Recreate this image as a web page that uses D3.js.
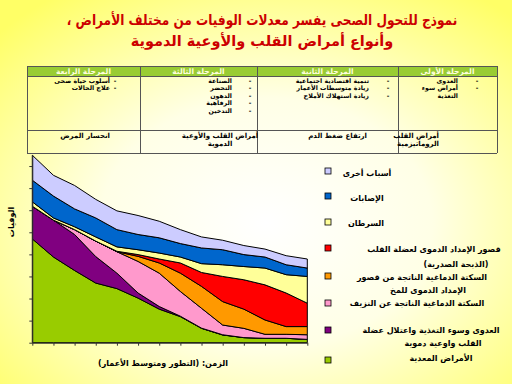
<!DOCTYPE html>
<html>
<head>
<meta charset="utf-8">
<script src="https://cdn.jsdelivr.net/npm/d3@7"></script>
<style>
  body { margin: 0; }
  svg { display: block; font-family: "DejaVu Sans", sans-serif; }
  .ar { direction: rtl; unicode-bidi: embed; }
</style>
</head>
<body>
<svg class="chart" width="512" height="384"></svg>
<script>
// stages of the health transition, columns left -> right
var stages = ["المرحلة الرابعة", "المرحلة الثالثة", "المرحلة الثانية", "المرحلة الأولى"];
var factors = [
  [["أسلوب حياة صحى"], ["علاج الحالات"]],
  [["الصناعة"], ["التحضر"], ["الدهون"], ["الرفاهية"], ["التدخين"]],
  [["تنمية اقتصادية اجتماعية"], ["زيادة متوسطات الأعمار"], ["زيادة استهلاك الأملاح"]],
  [["العدوى"], ["أمراض سوء", "التغذية"]]
];
var outcomes = [["انحسار المرض"], ["أمراض القلب والأوعية", "الدموية"], ["ارتفاع ضغط الدم"], ["أمراض القلب", "الروماتيزمية"]];

// time periods along x (no labels on the axis)
var periods = [1, 2, 3, 4, 5, 6, 7, 8, 9, 10, 11, 12, 13, 14];
var yTicks = [0, 1, 2, 3, 4, 5, 6, 7, 8];

// death rates by cause, stacked bottom -> top
var infectious     = [4.7, 3.88, 3.27, 2.7, 2.45, 2.02, 1.52, 1.18, 0.65, 0.35, 0.23, 0.2, 0.2, 0.15];
var nutrition      = [1.48, 1.67, 1.63, 1.2, 0.7, 0.23, 0.12, 0.02, 0.01, 0.01, 0, 0, 0, 0];
var hemorrhagic    = [0, 0, 0.22, 0.7, 0.97, 1.43, 1.51, 1.12, 0.9, 0.44, 0.42, 0.18, 0.18, 0.21];
var ischemicStroke = [0, 0, 0, 0, 0, 0.23, 0.46, 0.83, 0.99, 1.06, 0.87, 0.65, 0.35, 0.37];
var ischemicHeart  = [0, 0, 0, 0, 0.02, 0.08, 0.18, 0.46, 0.63, 1.14, 1.33, 1.59, 1.52, 1.06];
var cancer         = [0.2, 0.1, 0.13, 0.19, 0.2, 0.22, 0.27, 0.27, 0.4, 0.53, 0.6, 0.76, 0.83, 1.21];
var injuries       = [0.98, 0.99, 0.81, 0.86, 0.78, 0.69, 0.69, 0.61, 0.71, 0.68, 0.54, 0.5, 0.45, 0.38];
var otherCauses    = [1.13, 0.94, 1.06, 0.84, 0.85, 0.86, 0.75, 0.63, 0.5, 0.43, 0.41, 0.36, 0.41, 0.41];

var keys = ["infectious", "nutrition", "hemorrhagic", "ischemicStroke", "ischemicHeart", "cancer", "injuries", "otherCauses"];
var labels = {
  infectious: ["الأمراض المعدية"],
  nutrition: ["العدوى وسوء التغذية واعتلال عضلة", "القلب واوعية دموية"],
  hemorrhagic: ["السكتة الدماغية الناتجة عن النزيف"],
  ischemicStroke: ["السكتة الدماغية الناتجة من قصور", "الإمداد الدموى للمخ"],
  ischemicHeart: ["قصور الإمداد الدموى لعضلة القلب", "(الذبحة الصدرية)"],
  cancer: ["السرطان"],
  injuries: ["الإصابات"],
  otherCauses: ["أسباب أخرى"]
};
var colors = {
  infectious: "#99cc00", nutrition: "#800080", hemorrhagic: "#ff99cc", ischemicStroke: "#ff9900",
  ischemicHeart: "#ff0000", cancer: "#ffff99", injuries: "#0066cc", otherCauses: "#ccccff"
};

var series = { infectious: infectious, nutrition: nutrition, hemorrhagic: hemorrhagic,
  ischemicStroke: ischemicStroke, ischemicHeart: ischemicHeart, cancer: cancer,
  injuries: injuries, otherCauses: otherCauses };

var table = periods.map(function(p, i) {
  var row = { period: p };
  keys.forEach(function(k) { row[k] = series[k][i]; });
  return row;
});

var svg = d3.select(".chart");

// background: pale yellow slide
var defs = svg.append("defs");
var bg = defs.append("radialGradient").attr("id", "bg")
  .attr("cx", "52%").attr("cy", "58%").attr("r", "72%");
bg.append("stop").attr("offset", "0%").attr("stop-color", "#ffffff");
bg.append("stop").attr("offset", "45%").attr("stop-color", "#ffffe6");
bg.append("stop").attr("offset", "100%").attr("stop-color", "#ffff66");
svg.append("rect").attr("width", 512).attr("height", 384).attr("fill", "url(#bg)");

// title: drawn at full size, then squeezed horizontally to the slide's width
var titleLines = ["نموذج للتحول الصحى يفسر معدلات الوفيات من مختلف الأمراض ،", "وأنواع أمراض القلب والأوعية الدموية"];
var titleWidth = [391, 265];
titleLines.forEach(function(t, i) {
  var node = svg.append("text")
    .attr("class", "title ar")
    .attr("x", 0)
    .attr("y", 0)
    .attr("text-anchor", "middle")
    .attr("font-size", 14.5)
    .attr("font-weight", "bold")
    .attr("fill", "#cc0000")
    .text(t);
  var w = node.node().getComputedTextLength();
  var k = Math.min(1, titleWidth[i] / w);
  node.attr("transform", "translate(262," + (25 + i * 21) + ") scale(" + k.toFixed(3) + ",1)");
});

// ---- table ----
var colX = [27, 140, 257, 398, 497];
var rowY = [66, 76, 130, 153];

svg.selectAll(".head")
  .data(stages)
  .enter().append("rect")
    .attr("x", function(d, i) { return colX[i]; })
    .attr("y", rowY[0])
    .attr("width", function(d, i) { return colX[i + 1] - colX[i]; })
    .attr("height", rowY[1] - rowY[0])
    .attr("fill", "#99cc33");

var grid = svg.append("g").attr("stroke", "#555").attr("stroke-width", 1).attr("fill", "none");
rowY.forEach(function(y) {
  grid.append("line").attr("x1", colX[0]).attr("x2", colX[4]).attr("y1", y + 0.5).attr("y2", y + 0.5);
});
colX.forEach(function(x) {
  grid.append("line").attr("x1", x + 0.5).attr("x2", x + 0.5).attr("y1", rowY[0]).attr("y2", rowY[3]);
});

svg.selectAll(".headText")
  .data(stages)
  .enter().append("text")
    .attr("class", "ar")
    .attr("x", function(d, i) { return (colX[i] + colX[i + 1]) / 2; })
    .attr("y", rowY[0] + 8)
    .attr("text-anchor", "middle")
    .attr("font-size", 7.5)
    .attr("font-weight", "bold")
    .attr("fill", "#ffffdd")
    .text(function(d) { return d; });

var textRight = [110, 232, 369, 458];
var dashX = [115, 250, 388, 477];
var lineGap = 7.4;
factors.forEach(function(items, c) {
  var line = 0;
  items.forEach(function(item) {
    svg.append("text")
      .attr("x", dashX[c]).attr("y", 83 + line * lineGap)
      .attr("font-size", 6.3).attr("font-weight", "bold")
      .attr("text-anchor", "middle")
      .text("-");
    item.forEach(function(t) {
      svg.append("text")
        .attr("class", "ar")
        .attr("x", textRight[c]).attr("y", 83 + line * lineGap)
        .attr("text-anchor", "start")
        .attr("font-size", 6.3).attr("font-weight", "bold")
        .text(t);
      line++;
    });
  });
});

var outX = [110, 220, 367, 439];
var outAnchor = ["start", "middle", "start", "start"];
outcomes.forEach(function(lines, c) {
  lines.forEach(function(t, j) {
    svg.append("text")
      .attr("class", "ar")
      .attr("x", outX[c]).attr("y", 138 + j * 8.2)
      .attr("text-anchor", outAnchor[c])
      .attr("font-size", 7).attr("font-weight", "bold")
      .text(t);
  });
});

// ---- stacked area chart ----
var x = d3.scaleLinear().domain([1, 14]).range([32.3, 307.3]);
var y = d3.scaleLinear().domain([0, 8.5]).range([342.7, 155]);

var stacked = d3.stack().keys(keys)(table);

var area = d3.area()
  .x(function(d) { return x(d.data.period); })
  .y0(function(d) { return y(d[0]); })
  .y1(function(d) { return y(d[1]); });

svg.append("g").selectAll("path")
  .data(stacked)
  .enter().append("path")
    .attr("d", area)
    .attr("fill", function(d) { return colors[d.key]; })
    .attr("stroke", "#000")
    .attr("stroke-width", 1)
    .attr("stroke-linejoin", "round");

var xAxis = svg.append("g")
  .attr("transform", "translate(0," + y(0) + ")")
  .call(d3.axisBottom(x).tickValues(periods).tickSize(3).tickSizeOuter(0).tickFormat(""));
var yAxis = svg.append("g")
  .attr("transform", "translate(" + x(1) + ",0)")
  .call(d3.axisLeft(y).tickValues(yTicks).tickSize(3).tickSizeOuter(0).tickFormat(""));
svg.selectAll(".domain, .tick line").attr("stroke", "#333");

svg.append("text")
  .attr("class", "ar")
  .attr("transform", "translate(14,222) rotate(-90)")
  .attr("text-anchor", "middle")
  .attr("font-size", 8).attr("font-weight", "bold")
  .text("الوفيات");

svg.append("text")
  .attr("class", "ar")
  .attr("x", 163).attr("y", 366)
  .attr("text-anchor", "middle")
  .attr("font-size", 8).attr("font-weight", "bold")
  .text("الزمن: (التطور ومتوسط الأعمار)");

// ---- legend (top -> bottom) ----
var legendY = [168, 193, 219, 245, 273, 300, 327, 357];
var legendText = [
  [[367, 176]],
  [[367, 201]],
  [[366, 226]],
  [[434, 252], [456, 267]],
  [[422, 280], [428, 293]],
  [[417, 306]],
  [[431, 333], [443, 346]],
  [[441, 361]]
];
var legendKeys = keys.slice().reverse();

svg.selectAll(".swatch")
  .data(legendKeys)
  .enter().append("rect")
    .attr("x", 325)
    .attr("y", function(d, i) { return legendY[i]; })
    .attr("width", 6).attr("height", 6)
    .attr("fill", function(d) { return colors[d]; })
    .attr("stroke", "#000").attr("stroke-width", 0.8);

legendKeys.forEach(function(k, i) {
  labels[k].forEach(function(t, j) {
    svg.append("text")
      .attr("class", "ar")
      .attr("x", legendText[i][j][0]).attr("y", legendText[i][j][1])
      .attr("text-anchor", "middle")
      .attr("font-size", 8).attr("font-weight", "bold")
      .text(t);
  });
});
</script>
</body>
</html>
